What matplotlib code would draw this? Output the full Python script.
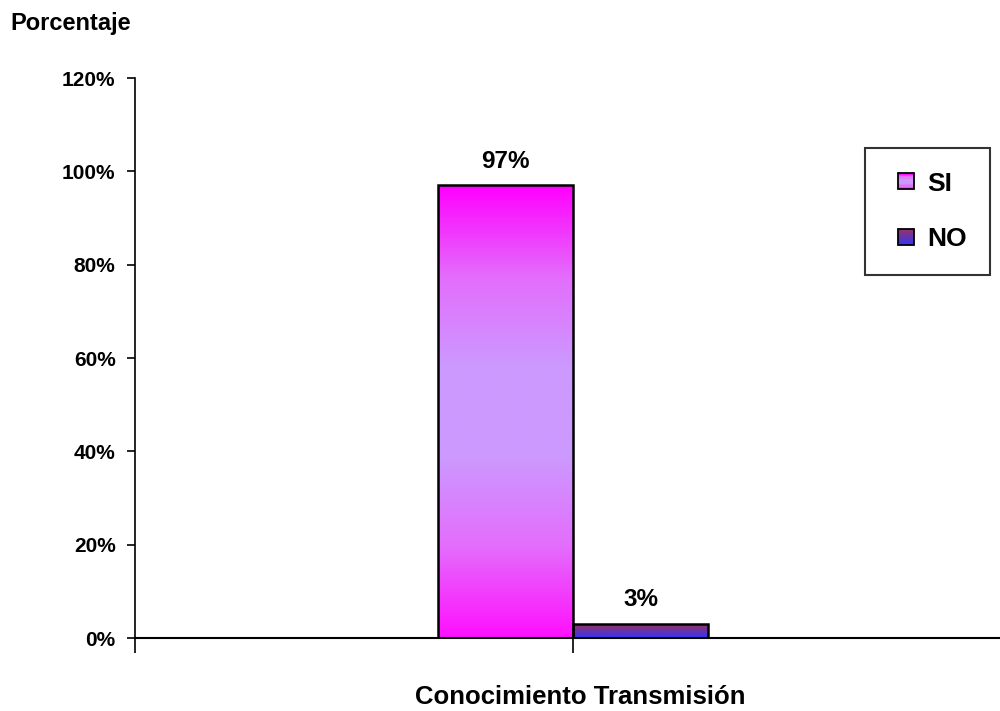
import numpy as np
import matplotlib
matplotlib.use("Agg")
import matplotlib.pyplot as plt
from matplotlib.patches import Rectangle
from matplotlib.colors import LinearSegmentedColormap
from matplotlib.legend_handler import HandlerBase

plt.rcParams['font.family'] = ['Liberation Sans', 'DejaVu Sans']

# ---- data ----
category = "Conocimiento Transmisión"
series = ["SI", "NO"]
values = [97, 3]
value_labels = ["97%", "3%"]
yticks = [0, 20, 40, 60, 80, 100, 120]
ytick_labels = ["0%", "20%", "40%", "60%", "80%", "100%", "120%"]
ylabel = "Porcentaje"

# gradient colours (top -> bottom)
grad_colors = {
    "SI": ["#ff00ff", "#e46cfc", "#cc99ff", "#cc99ff", "#e46cfc", "#ff10ff"],
    "NO": ["#993366", "#6633aa", "#3333ff"],
}

W, H = 1000, 711
fig = plt.figure(figsize=(W / 100, H / 100), dpi=100)
ax = fig.add_axes([135 / W, 1 - 638 / H, 876 / W, (638 - 78) / H])
ax.set_xlim(-0.5, 0.5)
ax.set_ylim(0, 120)

px_per_unit = (638 - 78) / 120.0
bw = 135 / 876
xs = [-bw / 2, bw / 2]

for name, x, v, lab in zip(series, xs, values, value_labels):
    cmap = LinearSegmentedColormap.from_list(name, grad_colors[name][::-1])
    grad = np.linspace(0, 1, 256).reshape(-1, 1)
    im = ax.imshow(grad, cmap=cmap, aspect='auto', origin='lower',
                   extent=[x - bw / 2, x + bw / 2, 0, v], zorder=2,
                   interpolation='bilinear')
    rect = Rectangle((x - bw / 2, 0), bw, v, facecolor='none', edgecolor='none')
    ax.add_patch(rect)
    im.set_clip_path(rect)
    ax.bar(x, v, width=bw, facecolor='none', edgecolor='black', linewidth=1.8, zorder=3)
    ax.text(x, v + 17.5 / px_per_unit, lab, ha='center', va='baseline',
            fontsize=17.5, fontweight='bold', zorder=4)

ax.set_xlim(-0.5, 0.5)
ax.set_ylim(0, 120)
ax.set_yticks(yticks)
ax.set_yticklabels(ytick_labels, fontsize=15, fontweight='bold')
ax.set_xticks([-0.5, 0, 0.5])
ax.set_xticklabels([])
ax.tick_params(axis='y', direction='out', length=6, width=1.2, pad=8)
ax.tick_params(axis='x', direction='out', length=11, width=1.2)
for s in ['top', 'right']:
    ax.spines[s].set_visible(False)
ax.spines['left'].set_linewidth(1.2)
ax.spines['bottom'].set_linewidth(1.5)

fig.text(10 / W, 1 - 30 / H, ylabel, fontsize=17, fontweight='bold', ha='left', va='baseline')
fig.text(580 / W, 1 - 704 / H, category, fontsize=18.5, fontweight='bold', ha='center', va='baseline')


class GradHandler(HandlerBase):
    def __init__(self, colors):
        super().__init__()
        self.colors = colors

    def create_artists(self, legend, orig_handle, xdescent, ydescent, width, height, fontsize, trans):
        n = 12
        cmap = LinearSegmentedColormap.from_list("h", self.colors[::-1])
        side = height
        x0 = width - side
        arts = []
        for i in range(n):
            arts.append(Rectangle((x0 - xdescent, -ydescent + side * i / n), side, side / n + 0.01,
                                  facecolor=cmap((i + 0.5) / n), edgecolor='none', transform=trans))
        arts.append(Rectangle((x0 - xdescent, -ydescent), side, side, facecolor='none',
                              edgecolor='black', linewidth=1.3, transform=trans))
        return arts


handles = [Rectangle((0, 0), 1, 1) for _ in series]
leg = fig.legend(handles, series, loc='upper left', bbox_to_anchor=(865 / W, 1 - 148 / H),
                 bbox_transform=fig.transFigure,
                 prop={'weight': 'bold', 'size': 19}, frameon=True, fancybox=False,
                 handler_map={handles[0]: GradHandler(grad_colors["SI"]),
                              handles[1]: GradHandler(grad_colors["NO"])},
                 handlelength=0.95, handleheight=0.55, handletextpad=0.5, labelspacing=1.2,
                 borderpad=0.9, borderaxespad=0, edgecolor='black')
leg.get_frame().set_linewidth(1.5)

fig.savefig("out.png", dpi=100)
